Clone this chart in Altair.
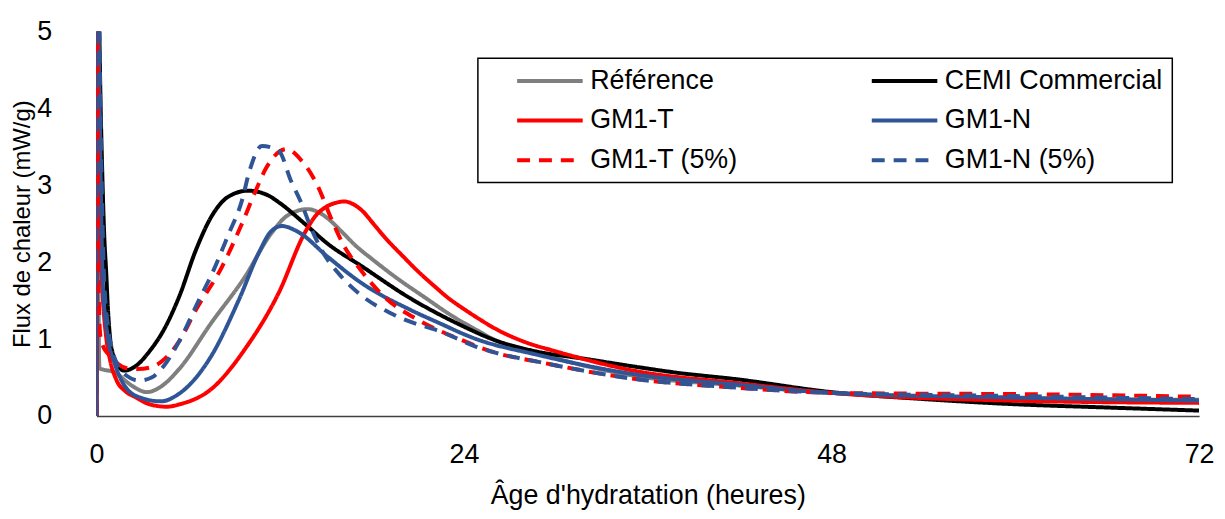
import altair as alt
import pandas as pd

FONT = "Liberation Sans, Arial, sans-serif"
FS = 27

series_names = ["Référence", "CEMI Commercial", "GM1-T", "GM1-N", "GM1-T (5%)", "GM1-N (5%)"]
series_colors = ["#7F7F7F", "#000000", "#FF0000", "#2F5597", "#FF0000", "#2F5597"]
series_dashes = [[1, 0], [1, 0], [1, 0], [1, 0], [13, 9], [13, 9]]

# Référence
ref_t = [0, 0.06, 0.12, 0.2, 0.5, 1.0, 1.4, 2.0, 2.5, 3.3, 4.2, 5.4, 7.5, 9.7, 11.4, 12.5,
         13.8, 14.5, 15.1, 16.0, 16.9, 18.0, 19.5, 21.6, 23.0, 24.8, 26.1, 28.7, 35.2, 41.7, 48, 59.7, 72]
ref_v = [0, 6.0, 2.0, 0.62, 0.6, 0.58, 0.54, 0.44, 0.37, 0.31, 0.38, 0.61, 1.21, 1.81, 2.37, 2.61,
         2.69, 2.65, 2.57, 2.40, 2.22, 2.04, 1.81, 1.52, 1.33, 1.12, 0.98, 0.82, 0.52, 0.40, 0.30, 0.23, 0.21]

# CEMI Commercial
cem_t = [0, 0.06, 0.3, 0.52, 0.63, 0.75, 0.9, 1.06, 1.4, 1.8, 2.5, 3.5, 4.4, 5.4, 6.5, 7.5, 8.6,
         9.9, 11.2, 11.9, 13.6, 15.1, 17.3, 20.5, 23.7, 26.1, 28.7, 32, 35.2, 38, 41.7, 48, 54,
         59.7, 66, 72]
cem_v = [0, 6.0, 3.8, 2.3, 1.9, 1.4, 1.0, 0.82, 0.66, 0.59, 0.64, 0.85, 1.12, 1.55, 2.16, 2.59, 2.85,
         2.93, 2.87, 2.78, 2.50, 2.24, 1.95, 1.53, 1.19, 0.98, 0.84, 0.74, 0.64, 0.56, 0.48, 0.31, 0.22,
         0.155, 0.11, 0.07]

# GM1-T
gmt_t = [0, 0.04, 0.19, 0.4, 0.63, 0.9, 1.28, 1.9, 2.5, 3.5, 4.6, 5.4, 7.5, 9.7, 11.9, 13.6, 14.3,
         15.0, 15.6, 16.2, 16.8, 17.4, 18.0, 18.8, 20.0, 21.0, 22.0, 23.0, 24.0, 25.0, 26.0, 28.0, 30.0,
         35.2, 41.7, 48, 59.7, 72]
gmt_v = [0, 5.5, 2.67, 1.6, 1.04, 0.72, 0.48, 0.32, 0.25, 0.15, 0.12, 0.15, 0.35, 0.87, 1.6, 2.38, 2.60,
         2.72, 2.77, 2.79, 2.75, 2.66, 2.52, 2.33, 2.08, 1.88, 1.70, 1.53, 1.39, 1.26, 1.14, 0.96, 0.84,
         0.585, 0.43, 0.30, 0.20, 0.17]

# GM1-N
gmn_t = [0, 0.05, 0.2, 0.3, 0.42, 0.73, 1.17, 2.0, 3.0, 4.2, 5.4, 7.5, 9.3, 10.6, 11.4, 12.1, 13.2,
         15.1, 17.3, 20.5, 22.25, 24.8, 28.7, 35.2, 41.7, 48, 59.7, 72]
gmn_v = [0, 6.5, 4.2, 2.8, 1.7, 1.04, 0.7, 0.35, 0.23, 0.19, 0.29, 0.78, 1.51, 2.12, 2.40, 2.47, 2.39,
         2.07, 1.73, 1.38, 1.22, 1.0, 0.80, 0.54, 0.41, 0.30, 0.24, 0.20]

# GM1-T (5%)
gmt5_t = [0, 0.04, 0.1, 0.15, 0.25, 0.45, 0.7, 1.0, 1.4, 2.0, 2.7, 3.5, 4.2, 5.4, 6.5, 8.2, 9.5, 10.4,
          11.1, 12.4, 13.4, 14.5, 15.3, 16.2, 17.1, 18.8, 21.0, 23.7, 26.1, 28.7, 35.2, 41.7, 48, 54,
          59.7, 66, 72]
gmt5_v = [0, 6.0, 3.0, 1.6, 1.05, 0.9, 0.82, 0.76, 0.68, 0.62, 0.61, 0.63, 0.7, 0.97, 1.38, 1.94, 2.5, 2.93,
          3.23, 3.47, 3.32, 2.97, 2.58, 2.2, 1.94, 1.55, 1.25, 1.0, 0.82, 0.71, 0.48, 0.37, 0.30, 0.29,
          0.285, 0.27, 0.25]

# GM1-N (5%)
gmn5_t = [0, 0.05, 0.3, 0.5, 0.8, 1.2, 2.0, 2.8, 3.6, 4.4, 5.4, 6.7, 7.5, 8.6, 9.5, 10.0, 10.8, 11.9,
          12.7, 13.4, 14.0, 14.7, 16.0, 17.1, 19.7, 22.7, 24.8, 26.1, 28.7, 35.2, 41.7, 48, 59.7, 72]
gmn5_v = [0, 6.5, 3.5, 1.8, 1.1, 0.75, 0.52, 0.46, 0.5, 0.65, 0.97, 1.51, 1.83, 2.35, 2.8, 3.19, 3.51, 3.45,
          3.06, 2.76, 2.45, 2.16, 1.81, 1.60, 1.29, 1.08, 0.9, 0.82, 0.71, 0.48, 0.37, 0.30, 0.26, 0.22]

all_t = [ref_t, cem_t, gmt_t, gmn_t, gmt5_t, gmn5_t]
all_v = [ref_v, cem_v, gmt_v, gmn_v, gmt5_v, gmn5_v]

rows = []
for k, (name, ts, vs) in enumerate(zip(series_names, all_t, all_v)):
    for t, v in zip(ts, vs):
        rows.append({"serie": name, "k": k, "t": t, "v": v})
df = pd.DataFrame(rows)

legend = alt.Legend(
    title=None, orient="none", legendX=384, legendY=27, columns=2, direction="horizontal",
    symbolType="M-3,0H3", symbolSize=484, symbolStrokeWidth=4,
    symbolOffset=50, labelOffset=27, columnPadding=104, rowPadding=12, padding=9,
    labelFont=FONT, labelFontSize=FS, labelColor="#000000", labelLimit=400,
    strokeColor="#000000",
)

chart = alt.Chart(df).mark_line(strokeWidth=4, interpolate="monotone", clip=True).encode(
    x=alt.X("t:Q", scale=alt.Scale(domain=[0, 72], nice=False, zero=False),
            axis=alt.Axis(values=[0, 24, 48, 72], title="Âge d'hydratation (heures)",
                          grid=False, ticks=False, tickSize=0, labelPadding=39,
                          labelBaseline="middle",
                          domainColor="#404040", domainWidth=1.5,
                          titleY=88, titleBaseline="alphabetic")),
    y=alt.Y("v:Q", scale=alt.Scale(domain=[0, 5], nice=False),
            axis=alt.Axis(values=[0, 1, 2, 3, 4, 5], title="Flux de chaleur (mW/g)",
                          grid=False, ticks=False, tickSize=0, domain=False, labelPadding=45,
                          titleX=-67, titleBaseline="alphabetic", titleFontSize=24)),
    color=alt.Color("serie:N", scale=alt.Scale(domain=series_names, range=series_colors), legend=legend),
    strokeDash=alt.StrokeDash("serie:N", scale=alt.Scale(domain=series_names, range=series_dashes), legend=legend),
    order=alt.Order("k:Q"),
).properties(
    width=1110, height=387,
    autosize=alt.AutoSizeParams(type="none"),
    padding={"left": 89, "top": 22, "right": 18, "bottom": 94},
).configure_view(stroke=None).configure_axis(
    labelFont=FONT, labelFontSize=FS, labelColor="#000000",
    titleFont=FONT, titleFontSize=FS, titleColor="#000000", titleFontWeight="normal",
    labelFlush=False, labelOverlap=False, labelBound=False,
).configure_legend(strokeWidth=1.5)

chart.save("out.html", embed_options={"renderer": "svg", "actions": False})
